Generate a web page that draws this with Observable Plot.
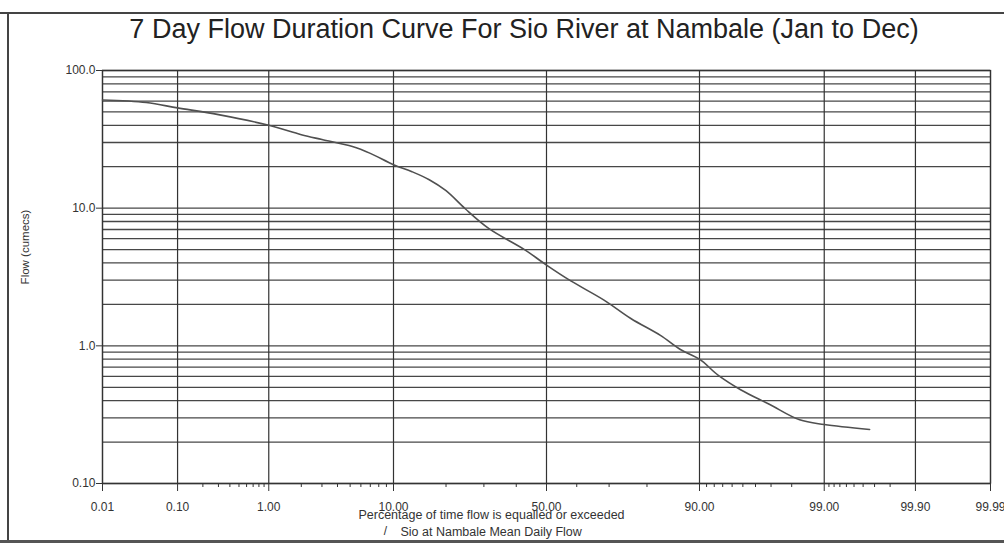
<!DOCTYPE html>
<html>
<head>
<meta charset="utf-8">
<script src="https://cdn.jsdelivr.net/npm/d3@7"></script>
<script src="https://cdn.jsdelivr.net/npm/@observablehq/plot@0.6"></script>
<style>
  html, body { margin: 0; padding: 0; background: #ffffff; }
  #page { position: relative; width: 1004px; height: 548px; overflow: hidden; font-family: "Liberation Sans", Arial, sans-serif; }
  #title { position: absolute; top: 14px; left: 0; width: 1048px; text-align: center; font-size: 27px; color: #222; line-height: 30px; white-space: nowrap; }
  #chart { position: absolute; top: 50px; left: 0; }
  .bt { position: absolute; left: 0; top: 12px; width: 1004px; height: 2px; background: #444; }
  .bl { position: absolute; left: 7px; top: 12px; width: 2px; height: 530px; background: #444; }
  .bb { position: absolute; left: 0; top: 540px; width: 1004px; height: 3px; background: #555; }
</style>
</head>
<body>
<div id="page">
  <div class="bt"></div><div class="bl"></div><div class="bb"></div>
  <div id="title">7 Day Flow Duration Curve For Sio River at Nambale (Jan to Dec)</div>
  <div id="chart"></div>
</div>
<script>
// ---- data ----
const percentExceeded = [0.01, 0.04, 0.1, 0.3, 1, 2, 3, 5.2, 7, 10, 13, 16.3, 20, 24.8, 31.5, 42.7, 50, 58.2, 68.5, 76, 83, 86.9, 90, 92.5, 94.8, 96.9, 98.3, 99, 99.66];
const flowCumecs     = [61, 58.5, 53.5, 47.8, 40, 34.2, 31.5, 28, 25, 20.7, 18.4, 16.1, 13.4, 9.9, 7.1, 5.0, 3.86, 2.95, 2.15, 1.58, 1.19, 0.94, 0.80, 0.61, 0.48, 0.376, 0.29, 0.268, 0.247];

const xTickValues = [0.01, 0.1, 1, 10, 50, 90, 99, 99.9, 99.99];
const xTickLabels = ["0.01", "0.10", "1.00", "10.00", "50.00", "90.00", "99.00", "99.90", "99.99"];
const xMinorTicks = [0.2, 0.3, 0.4, 0.5, 0.6, 0.7, 0.8, 0.9, 2, 3, 4, 5, 6, 7, 8, 9, 20, 30, 40, 60, 70, 80, 91, 92, 93, 94, 95, 96, 97, 98, 99.1, 99.2, 99.3, 99.4, 99.5, 99.6, 99.7, 99.8];
const yTickValues = [100, 10, 1, 0.1];
const yTickLabels = ["100.0", "10.0", "1.0", "0.10"];
const yGridValues = [0.1,0.2,0.3,0.4,0.5,0.6,0.7,0.8,0.9,1,2,3,4,5,6,7,8,9,10,20,30,40,50,60,70,80,90,100];

const xLabel = "Percentage of time flow is equalled or exceeded";
const yLabel = "Flow (cumecs)";
const legendLabel = "Sio at Nambale Mean Daily Flow";

// ---- normal probability axis transform (inverse normal CDF, Acklam) ----
function probit(p) {
  const a=[-3.969683028665376e+01,2.209460984245205e+02,-2.759285104469687e+02,1.383577518672690e+02,-3.066479806614716e+01,2.506628277459239e+00];
  const b=[-5.447609879822406e+01,1.615858368580409e+02,-1.556989798598866e+02,6.680131188771972e+01,-1.328068155288572e+01];
  const c=[-7.784894002430293e-03,-3.223964580411365e-01,-2.400758277161838e+00,-2.549732539343734e+00,4.374664141464968e+00,2.938163982698783e+00];
  const d=[7.784695709041462e-03,3.224671290700398e-01,2.445134137142996e+00,3.754408661907416e+00];
  const pl = 0.02425, ph = 1 - pl;
  let q, r;
  if (p < pl) { q = Math.sqrt(-2*Math.log(p)); return (((((c[0]*q+c[1])*q+c[2])*q+c[3])*q+c[4])*q+c[5])/((((d[0]*q+d[1])*q+d[2])*q+d[3])*q+1); }
  if (p <= ph) { q = p - 0.5; r = q*q; return (((((a[0]*r+a[1])*r+a[2])*r+a[3])*r+a[4])*r+a[5])*q/(((((b[0]*r+b[1])*r+b[2])*r+b[3])*r+b[4])*r+1); }
  q = Math.sqrt(-2*Math.log(1-p)); return -(((((c[0]*q+c[1])*q+c[2])*q+c[3])*q+c[4])*q+c[5])/((((d[0]*q+d[1])*q+d[2])*q+d[3])*q+1);
}
const z = pct => probit(pct / 100);

const series = percentExceeded.map((p, i) => ({p, flow: flowCumecs[i]}));
const xMajorZ = xTickValues.map(z);
const xLabelMap = new Map(xMajorZ.map((v, i) => [v, xTickLabels[i]]));
const yLabelMap = new Map(yTickValues.map((v, i) => [v, yTickLabels[i]]));
const zMin = z(0.01), zMax = z(99.99);

const ink = "#333";
const chart = Plot.plot({
  width: 1004,
  height: 498,
  marginLeft: 102,
  marginRight: 14,
  marginTop: 20,
  marginBottom: 65,
  style: {fontFamily: "'Liberation Sans', Arial, sans-serif", background: "transparent", color: ink},
  x: {type: "linear", domain: [zMin, zMax]},
  y: {type: "log", domain: [0.1, 100]},
  marks: [
    Plot.ruleY(yGridValues, {stroke: "#333", strokeWidth: 1.3, strokeOpacity: 0.9}),
    Plot.ruleX(xMajorZ, {stroke: "#333", strokeWidth: 1.2}),
    Plot.frame({stroke: "#333", strokeWidth: 1.3}),
    Plot.axisY({ticks: yTickValues, tickSize: 6, tickPadding: 1, fontSize: 12, tickFormat: v => yLabelMap.get(v), label: null, stroke: "#333"}),
    Plot.axisX({ticks: xMajorZ, tickSize: 8, tickPadding: 11, fontSize: 12, tickFormat: v => xLabelMap.get(v), label: null, stroke: "#333"}),
    Plot.axisX({ticks: xMinorTicks.map(z), tickSize: 4, tickFormat: () => "", label: null, stroke: "#333"}),
    Plot.line(series, {x: d => z(d.p), y: "flow", stroke: "#505050", strokeWidth: 1.6, curve: "catmull-rom"}),
    Plot.text([xLabel], {frameAnchor: "bottom", dx: -55, dy: 31, fontSize: 12.5, fill: "#333", lineAnchor: "middle"}),
    Plot.text(["/"], {frameAnchor: "bottom-left", dx: 283, dy: 48, fontSize: 12, fill: "#333", textAnchor: "middle", lineAnchor: "middle"}),
    Plot.text([legendLabel], {frameAnchor: "bottom-left", dx: 298, dy: 48, fontSize: 12.5, fill: "#333", textAnchor: "start", lineAnchor: "middle"}),
    Plot.text([yLabel], {frameAnchor: "left", dx: -77, dy: -30, rotate: -90, fontSize: 11.5, fill: "#333", textAnchor: "middle", lineAnchor: "middle"})
  ]
});
document.getElementById("chart").appendChild(chart);
</script>
</body>
</html>
